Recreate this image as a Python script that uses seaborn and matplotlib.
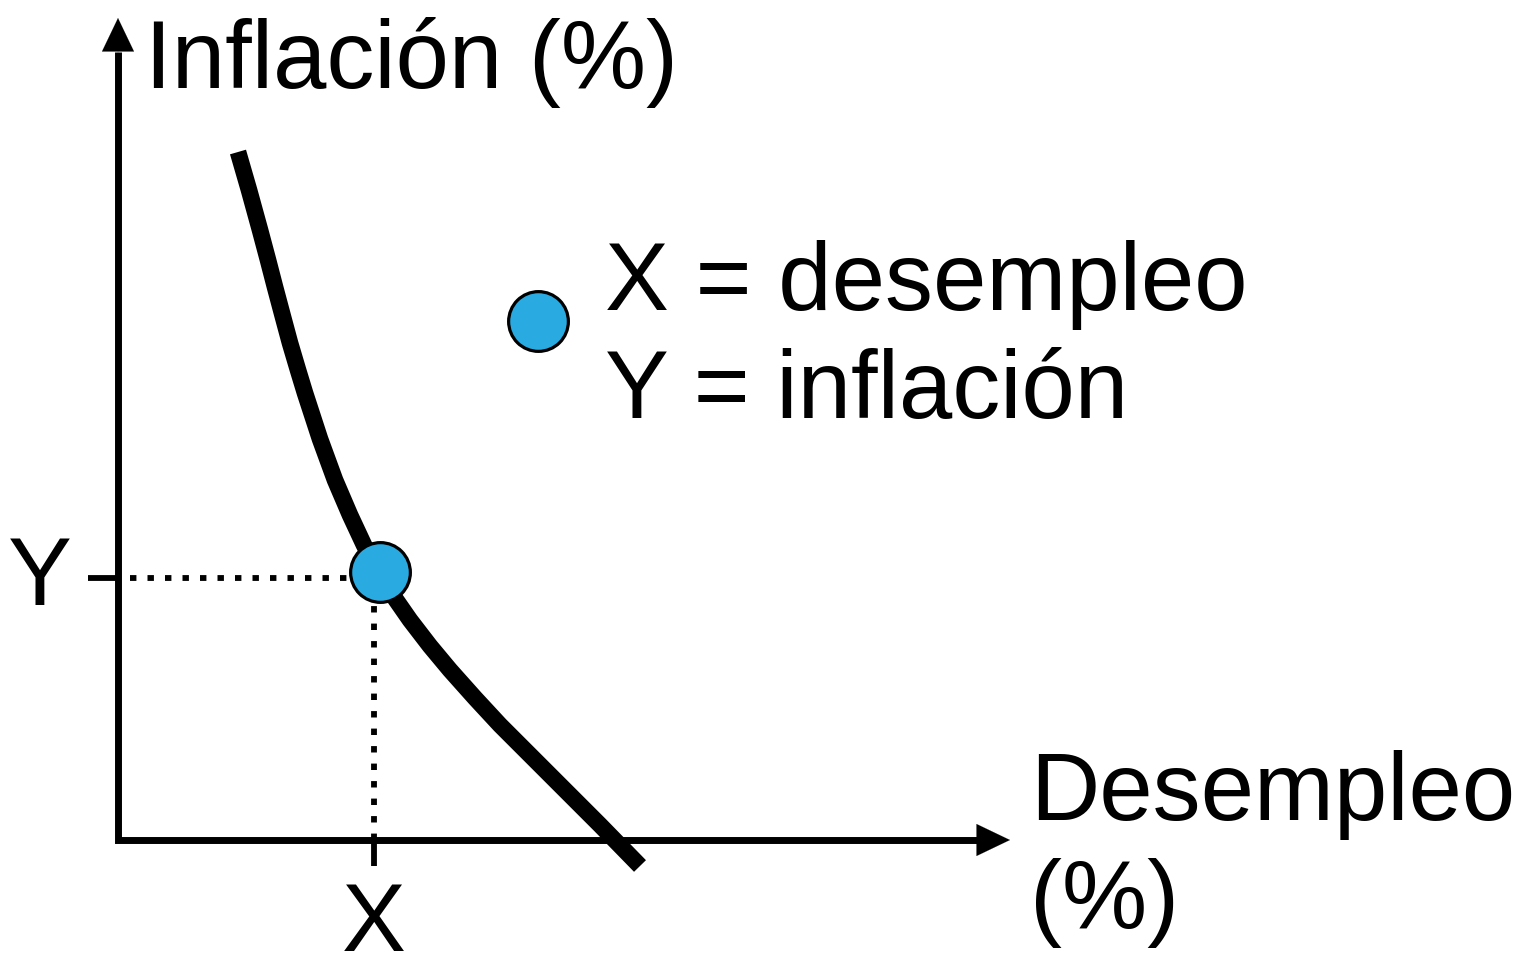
import matplotlib
matplotlib.use("Agg")
import matplotlib.pyplot as plt
import numpy as np
import pandas as pd
import seaborn as sns

sns.set_theme(style="white")
plt.rcParams["font.family"] = ["Liberation Sans", "DejaVu Sans"]
plt.rcParams["text.color"] = "black"

# Phillips curve (unemployment %, inflation %), arbitrary units
curve_x = [1.20, 1.31, 1.42, 1.50, 1.57, 1.65, 1.72, 1.80, 1.87, 2.02, 2.17,
           2.32, 2.46, 2.60, 2.76, 2.92, 3.12, 3.32, 3.57, 3.82, 4.07, 4.32,
           4.57, 4.82, 5.22]
curve_y = [6.88, 6.50, 6.10, 5.80, 5.53, 5.23, 4.97, 4.70, 4.47, 4.01, 3.60,
           3.25, 2.95, 2.68, 2.43, 2.20, 1.94, 1.70, 1.42, 1.15, 0.90, 0.65,
           0.40, 0.15, -0.26]

# highlighted point and its projections
point_x = [2.62]
point_y = [2.68]
x_star = 2.56
y_star = 2.62

# legend marker
key_x = [4.20]
key_y = [5.19]

axis_labels = ["Inflación (%)", "Desempleo", "(%)"]
key_labels = ["X = desempleo", "Y = inflación"]

blue = "#29ABE2"

fig = plt.figure(figsize=(15.29, 9.58), dpi=100)
ax = fig.add_axes([0, 0, 1, 1])
ax.set_xlim(-1.18, 14.11)
ax.set_ylim(-1.18, 8.40)
ax.axis("off")

# axes (L shape) + arrow heads
x_end, y_end = 8.60, 7.88
ax.plot([0, 0, x_end], [y_end, 0, 0], color="black", lw=5,
        solid_joinstyle="miter", solid_capstyle="butt")
head = dict(arrowstyle="-|>,head_length=2.4,head_width=1.15", lw=0.1,
            color="black", mutation_scale=10, shrinkA=0, shrinkB=0)
ax.annotate("", xy=(0, 8.22), xytext=(0, y_end - 0.02), arrowprops=head)
ax.annotate("", xy=(8.92, 0), xytext=(x_end - 0.02, 0), arrowprops=head)

# the curve
curve = pd.DataFrame({"u": curve_x, "pi": curve_y})
sns.lineplot(data=curve, x="u", y="pi", sort=False, color="black", lw=12,
             ax=ax, solid_capstyle="butt", solid_joinstyle="round",
             estimator=None)

# dotted projections and ticks
dots = dict(color="black", lw=4.2, linestyle=(0, (1.1, 1.9)))
ax.plot([0.12, 2.30], [y_star, y_star], **dots)
ax.plot([x_star, x_star], [0, 2.40], **dots)
ax.plot([-0.30, 0], [y_star, y_star], color="black", lw=4.2, solid_capstyle="butt")
ax.plot([x_star, x_star], [0, -0.26], color="black", lw=4.2, solid_capstyle="butt")

# points
sns.scatterplot(x=point_x, y=point_y, s=1850, color=blue, edgecolor="black",
                linewidth=2.3, ax=ax, zorder=5)
sns.scatterplot(x=key_x, y=key_y, s=1850, color=blue, edgecolor="black",
                linewidth=2.3, ax=ax, zorder=5)

fs = 69
ax.text(0.27, 7.52, axis_labels[0], fontsize=fs, va="baseline", ha="left")
ax.text(9.12, 0.20, axis_labels[1], fontsize=fs, va="baseline", ha="left")
ax.text(9.12, -0.88, axis_labels[2], fontsize=fs, va="baseline", ha="left")
ax.text(4.87, 5.30, key_labels[0], fontsize=fs, va="baseline", ha="left")
ax.text(4.87, 4.22, key_labels[1], fontsize=fs, va="baseline", ha="left")
ax.text(-0.78, 2.35, "Y", fontsize=fs, va="baseline", ha="center")
ax.text(x_star, -1.11, "X", fontsize=fs, va="baseline", ha="center")

fig.savefig("out.png", dpi=100)
plt.close(fig)
